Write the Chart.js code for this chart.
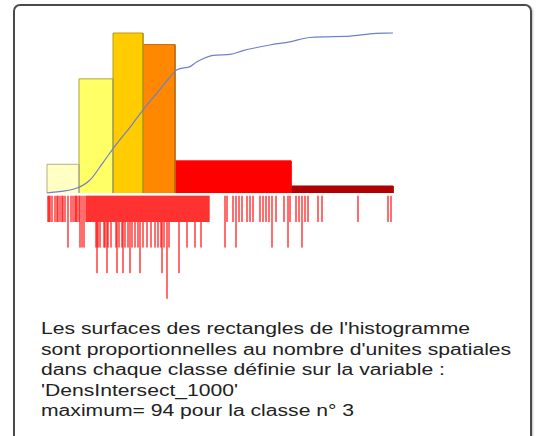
<!DOCTYPE html>
<html>
<head>
<meta charset="utf-8">
<script src="https://cdn.jsdelivr.net/npm/chart.js@4/dist/chart.umd.min.js"></script>
<style>
  html, body { margin: 0; padding: 0; background: #fff; width: 536px; height: 436px; overflow: hidden; }
  #frame { position: absolute; left: 13px; top: 4px; width: 515px; height: 470px;
           border: 2px solid #4a4a4a; border-radius: 7px; box-shadow: 1px 1px 2px rgba(0,0,0,0.25); }
  #wrap { position: absolute; left: 0; top: 0; width: 536px; height: 310px; }
  #note { position: absolute; left: 41px; top: 319px; font-family: "Liberation Sans", Arial, sans-serif;
          font-size: 16px; line-height: 20.5px; color: #222; white-space: pre;
          transform: scaleX(1.32); transform-origin: 0 0; }
</style>
</head>
<body>
<div id="frame"></div>
<div id="wrap"><canvas id="c" width="536" height="310"></canvas></div>
<div id="note"></div>
<script>
// Class limits of DensIntersect_1000 and number of spatial units per class
const classBreaks = [0, 32, 66, 96, 128, 244, 346];
const classCounts = [18, 76, 94, 93, 73, 14];
const classColors = ['#ffffc4', '#ffff66', '#ffcc00', '#ff8800', '#ff0000', '#b00000'];
const classBorders = ['#b4b27a', '#aaa548', '#b89a10', '#c06a10', '#ff0000', '#b00000'];

// Cumulative share of units along the variable
const cumulX = [0, 30, 43, 56, 70, 83, 96, 110, 123, 130, 143, 150, 166, 183, 196, 223, 243, 263, 303, 323, 346];
const cumulY = [0, 0.031, 0.081, 0.19, 0.31, 0.41, 0.52, 0.625, 0.725, 0.77, 0.79, 0.82, 0.86, 0.866, 0.89, 0.925, 0.945, 0.972, 0.98, 0.995, 1.0];

// Rug of individual values: position and stack depth
const rugX = [
  1, 2, 3, 5, 8, 10, 11, 13, 15, 16, 18, 21, 24, 26, 28, 29, 30,
  32, 33, 35, 37, 39, 40, 41, 42, 43, 44, 45, 46, 47, 48, 49, 50, 51, 52, 53, 54, 55, 56, 57, 58, 59, 60, 61, 62, 63, 64, 65,
  66, 67, 68, 69, 70, 71, 72, 73, 74, 75, 76, 77, 78, 79, 80, 81, 82, 83, 84, 85, 86, 87, 88, 89, 90, 91, 92, 93, 94, 95,
  96, 97, 98, 99, 100, 101, 102, 103, 104, 105, 106, 107, 108, 109, 110, 111, 112, 113, 114, 115, 116, 117, 118, 119, 120, 121, 122, 123, 124, 125, 126, 127,
  128, 129, 130, 131, 132, 133, 134, 135, 136, 137, 138, 139, 140, 141, 142, 143, 144, 145, 146, 147, 148, 149, 150, 151, 152, 153, 154, 155, 156, 157, 158, 159, 160, 161, 162,
  178, 180, 186, 189, 192, 195, 200, 203, 206, 213, 216, 219, 222, 225, 229, 237, 241, 243,
  249, 252, 255, 258, 261, 271, 275, 311, 341, 344
];
const rugDepth = [
  1, 1, 1, 1, 1, 1, 1, 1, 1, 1, 1, 2, 1, 1, 1, 1, 1,
  1, 2, 2, 2, 1, 1, 1, 1, 1, 1, 1, 1, 1, 1, 2, 3, 2, 1, 2, 1, 1, 1, 2, 2, 1, 3, 2, 1, 1, 2, 1,
  1, 1, 1, 2, 3, 1, 2, 1, 1, 2, 3, 1, 2, 1, 1, 2, 1, 3, 1, 2, 1, 1, 2, 1, 1, 2, 1, 3, 1, 1,
  2, 1, 1, 1, 2, 1, 1, 1, 2, 1, 1, 1, 2, 1, 1, 2, 1, 1, 2, 3, 1, 2, 1, 1, 4, 1, 2, 1, 1, 1, 1, 1,
  1, 1, 1, 1, 3, 1, 1, 1, 1, 1, 1, 1, 2, 1, 1, 1, 1, 1, 1, 1, 2, 1, 1, 1, 1, 1, 2, 1, 1, 1, 1, 1, 1, 1, 1,
  2, 1, 1, 2, 1, 1, 1, 1, 1, 1, 1, 1, 1, 2, 1, 1, 2, 1,
  1, 1, 2, 1, 1, 1, 1, 1, 1, 1
];

const noteLines = [
  "Les surfaces des rectangles de l'histogramme",
  "sont proportionnelles au nombre d'unites spatiales",
  "dans chaque classe définie sur la variable :",
  "'DensIntersect_1000'",
  "maximum= 94 pour la classe n° 3"
];

document.getElementById('note').textContent = noteLines.join('\n');

// Bar heights are densities so that each rectangle's area follows its count
const density = classCounts.map((n, i) => n / (classBreaks[i + 1] - classBreaks[i]));
const maxDensity = Math.max(...density);
const rugShare = 107 / 160;   // room below the baseline kept for the rug
const rugTop = -0.019;
const rugStep = 0.16;

const histSets = classCounts.map((n, i) => {
  const x0 = classBreaks[i], x1 = classBreaks[i + 1], h = density[i];
  return {
    type: 'line',
    data: [{x: x0, y: 0}, {x: x0, y: h}, {x: x1, y: h}, {x: x1, y: 0}],
    backgroundColor: classColors[i],
    borderColor: classBorders[i],
    borderWidth: 1,
    fill: 'origin',
    pointRadius: 0,
    tension: 0,
    yAxisID: 'y',
    order: 1,
    clip: false
  };
});

const rugSet = {
  type: 'bar',
  data: rugX.map((x, i) => ({x: x, y: [rugTop, rugTop - rugStep * rugDepth[i]]})),
  backgroundColor: 'rgba(255, 12, 12, 0.6)',
  borderWidth: 0,
  barThickness: 1.4,
  grouped: false,
  yAxisID: 'yc',
  order: 2
};

const cumulSet = {
  type: 'line',
  data: cumulX.map((x, i) => ({x: x, y: cumulY[i]})),
  borderColor: '#6f80cc',
  borderWidth: 1.2,
  pointRadius: 0,
  fill: false,
  cubicInterpolationMode: 'monotone',
  yAxisID: 'yc',
  order: 0,
  clip: false
};

new Chart(document.getElementById('c'), {
  type: 'line',
  data: { datasets: [cumulSet, ...histSets, rugSet] },
  options: {
    responsive: false,
    animation: false,
    devicePixelRatio: 1,
    layout: { padding: { left: 47, right: 143, top: 33, bottom: 10 } },
    plugins: { legend: { display: false }, tooltip: { enabled: false } },
    scales: {
      x: { type: 'linear', min: classBreaks[0], max: classBreaks[classBreaks.length - 1], offset: false, display: false },
      y: { type: 'linear', min: -maxDensity * rugShare, max: maxDensity, display: false },
      yc: { type: 'linear', min: -rugShare, max: 1, display: false }
    }
  }
});
</script>
</body>
</html>
